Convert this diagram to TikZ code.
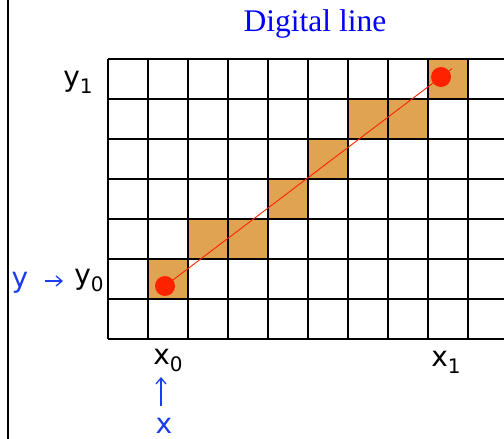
\documentclass[tikz,border=0pt]{standalone}
\usepackage{fontspec}
\setmainfont{Liberation Serif}
\newfontfamily\handfont{DejaVu Sans}
\usetikzlibrary{calc,arrows.meta}
\definecolor{cellfill}{HTML}{E0A352}
\definecolor{dotred}{HTML}{FF2200}
\definecolor{labblue}{HTML}{1A3CF0}
\newcommand{\hsub}[2]{#1\raisebox{-7pt}{\fontsize{20}{20}\selectfont #2}}
\begin{document}
\begin{tikzpicture}[x=1pt,y=-1pt,
  cellbox/.style={fill=cellfill,draw=none},
  gridline/.style={line width=1.4pt},
  dotnode/.style={circle,fill=dotred,inner sep=0pt,minimum size=20pt},
  hand/.style={font=\handfont\fontsize{28}{30}\selectfont,inner sep=0pt},
  handblue/.style={hand,text=labblue},
  bluearrow/.style={labblue,line width=1.3pt,-{Straight Barb[length=6pt,width=10pt]}}]
\useasboundingbox (0,0) rectangle (504,439);
% left border line
\draw[line width=1.6pt] (8,0) -- (8,439);
% title
\node[text=blue,font=\fontsize{31.5}{33}\selectfont] (title) at (315,24) {Digital line};
% filled cells
\foreach \c/\r in {8/0,6/1,7/1,5/2,4/3,2/4,3/4,1/5}{
  \fill[cellbox] ({108+40*\c},{59+40*\r}) rectangle ({148+40*\c},{99+40*\r});
}
% grid
\foreach \i in {0,...,9}{
  \draw[gridline] ({108+40*\i},59) -- ({108+40*\i},339);
}
\foreach \j in {0,...,7}{
  \draw[gridline] (108,{59+40*\j}) -- (504,{59+40*\j});
}
% points and line
\node[dotnode] (p0) at (165,286) {};
\node[dotnode] (p1) at (441,77) {};
\coordinate (pend) at ($(p0.center)!1.04!(p1.center)$);
\draw[dotred,line width=0.9pt] (p0.center) -- (pend);
% labels
\node[hand] (y1) at (78,82) {\hsub{y}{1}};
\node[hand] (y0) at (89,280) {\hsub{y}{0}};
\node[hand] (x0) at (168,360) {\hsub{x}{0}};
\node[hand] (x1) at (446,362) {\hsub{x}{1}};
\node[handblue] (ylab) at (20,283) {y};
\node[handblue] (xlab) at (164,426) {x};
\coordinate (ya) at (45,281);
\coordinate (yb) at (63,281);
\draw[bluearrow] (ya) -- (yb);
\coordinate (xa) at (161,406);
\coordinate (xb) at (161,377);
\draw[bluearrow] (xa) -- (xb);
\end{tikzpicture}
\end{document}
